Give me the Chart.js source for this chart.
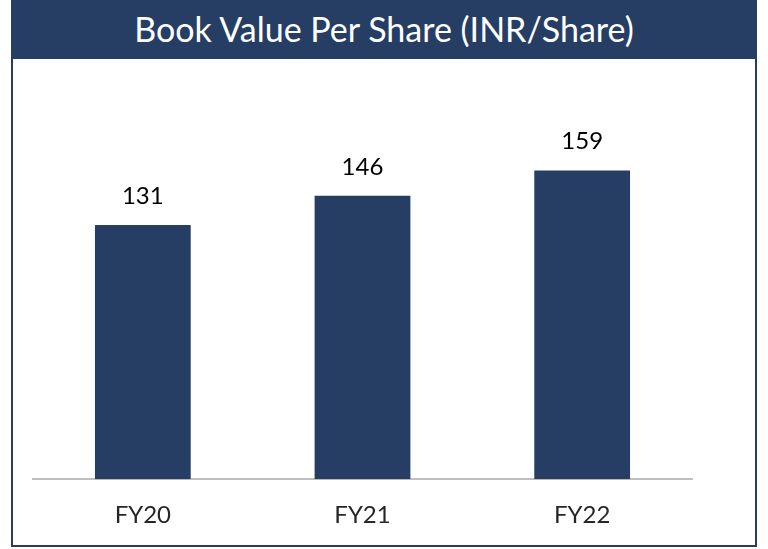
<!DOCTYPE html>
<html>
<head>
<meta charset="utf-8">
<script src="https://cdn.jsdelivr.net/npm/chart.js@4"></script>
<style>
  html, body { margin: 0; padding: 0; background: #ffffff; }
  body { width: 768px; height: 549px; position: relative; overflow: hidden; font-family: Lato, "Open Sans", sans-serif; }
  #title { position: absolute; left: 11px; top: 0; width: 746px; height: 59px; background: #263e64; color: #ffffff;
           font-size: 34px; line-height: 57px; text-align: center; white-space: nowrap; }
  #frame { position: absolute; left: 11px; top: 59px; width: 742px; height: 486px; border: 2px solid #263e64; border-top: none; }
  #wrap { position: absolute; left: 0; top: 0; width: 768px; height: 549px; }
</style>
</head>
<body>
<div id="title">Book Value Per Share (INR/Share)</div>
<div id="frame"></div>
<div id="wrap"><canvas id="c"></canvas></div>
<script>
const categories = ["FY20", "FY21", "FY22"];
const bookValue = [131, 146, 159];
const yRange = [0, 200];

const valueLabels = {
  id: 'valueLabels',
  afterDatasetsDraw(chart) {
    const ctx = chart.ctx;
    const meta = chart.getDatasetMeta(0);
    ctx.save();
    ctx.fillStyle = '#000000';
    ctx.font = '24px Lato, "Open Sans", sans-serif';
    ctx.textAlign = 'center';
    ctx.textBaseline = 'middle';
    meta.data.forEach((bar, i) => {
      ctx.fillText(String(chart.data.datasets[0].data[i]), bar.x, bar.y - 29);
    });
    ctx.restore();
  }
};

new Chart(document.getElementById('c'), {
  type: 'bar',
  data: {
    labels: categories,
    datasets: [{
      data: bookValue,
      backgroundColor: '#263e64',
      borderWidth: 0,
      categoryPercentage: 1,
      barPercentage: 0.436
    }]
  },
  options: {
    responsive: true,
    maintainAspectRatio: false,
    animation: false,
    layout: { padding: { left: 33, right: 76, top: 91, bottom: -3 } },
    plugins: { legend: { display: false }, tooltip: { enabled: false } },
    scales: {
      y: { display: false, min: yRange[0], max: yRange[1] },
      x: {
        grid: { display: false, drawTicks: false },
        border: { display: true, color: '#bfbfbf', width: 2 },
        ticks: { color: '#262626', padding: 22, font: { family: 'Lato, "Open Sans", sans-serif', size: 24 } }
      }
    }
  },
  plugins: [valueLabels]
});
</script>
</body>
</html>
